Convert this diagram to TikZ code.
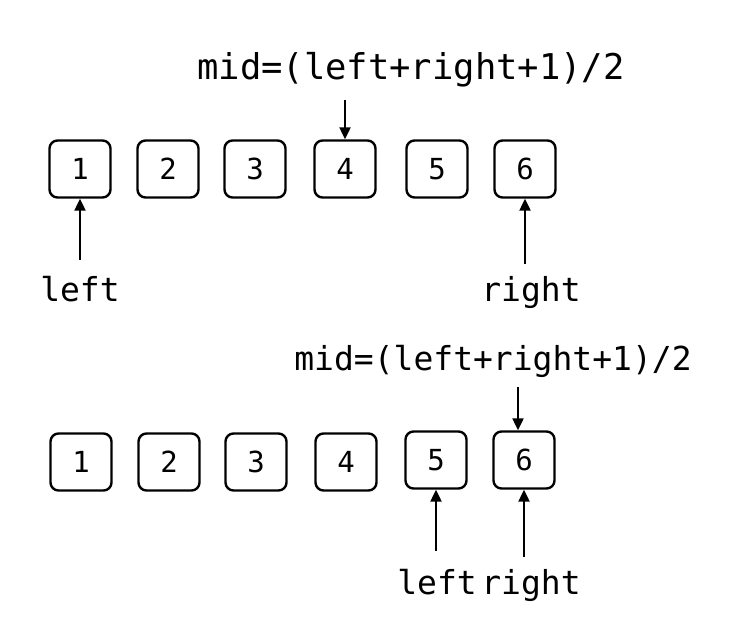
\documentclass[tikz,border=0pt]{standalone}
\usepackage{fontspec}
\newfontfamily\codefont{DejaVu Sans Mono}
\usetikzlibrary{arrows.meta,positioning}

\begin{document}
\begin{tikzpicture}[
    x=1pt, y=-1pt,
    cell/.style={rectangle, draw, line width=2.4pt, rounded corners=8pt, minimum width=61pt, minimum height=57pt, font=\codefont\fontsize{29}{29}\selectfont},
    lbl/.style={inner sep=0pt, font=\codefont\fontsize{33}{33}\selectfont},
    arrow/.style={-{Triangle[length=12pt,width=11pt]}, line width=2.2pt}
]
    \useasboundingbox (0,0) rectangle (738,639);

    % First row
    \node[cell] (a1) at (80,169) {1};
    \node[cell] (a2) at (168,169) {2};
    \node[cell] (a3) at (255,169) {3};
    \node[cell] (a4) at (345,169) {4};
    \node[cell] (a5) at (437,169) {5};
    \node[cell] (a6) at (525,169) {6};

    % Pointers of the first row
    \node[lbl, anchor=base, font=\codefont\fontsize{35.5}{35.5}\selectfont] (mida) at (411,80) {mid=(left+right+1)/2};
    \node[lbl, anchor=base] (lefta) at (80,301) {left};
    \node[lbl, anchor=base] (righta) at (531,301) {right};

    \draw[arrow] (mida.south -| a4.north) ++(0,12) -- (a4.north);
    \draw[arrow, shorten <=16pt] (lefta.north) -- (a1.south);
    \draw[arrow, shorten <=12pt] (righta.north -| a6.south) -- (a6.south);

    % Second row
    \node[cell] (b1) at (81,462) {1};
    \node[cell] (b2) at (169,462) {2};
    \node[cell] (b3) at (256,462) {3};
    \node[cell] (b4) at (346,462) {4};
    \node[cell] (b5) at (436,460) {5};
    \node[cell] (b6) at (524,460) {6};

    % Pointers of the second row
    \node[lbl, anchor=base] (midb) at (493,370) {mid=(left+right+1)/2};
    \node[lbl, anchor=base] (leftb) at (437,594) {left};
    \node[lbl, anchor=base] (rightb) at (531,594) {right};

    \draw[arrow, shorten <=10pt] ([xshift=-6pt]midb.south -| b6.north) -- ([xshift=-6pt]b6.north);
    \draw[arrow, shorten <=18pt] (leftb.north -| b5.south) -- (b5.south);
    \draw[arrow, shorten <=12pt] (rightb.north -| b6.south) -- (b6.south);
\end{tikzpicture}
\end{document}
